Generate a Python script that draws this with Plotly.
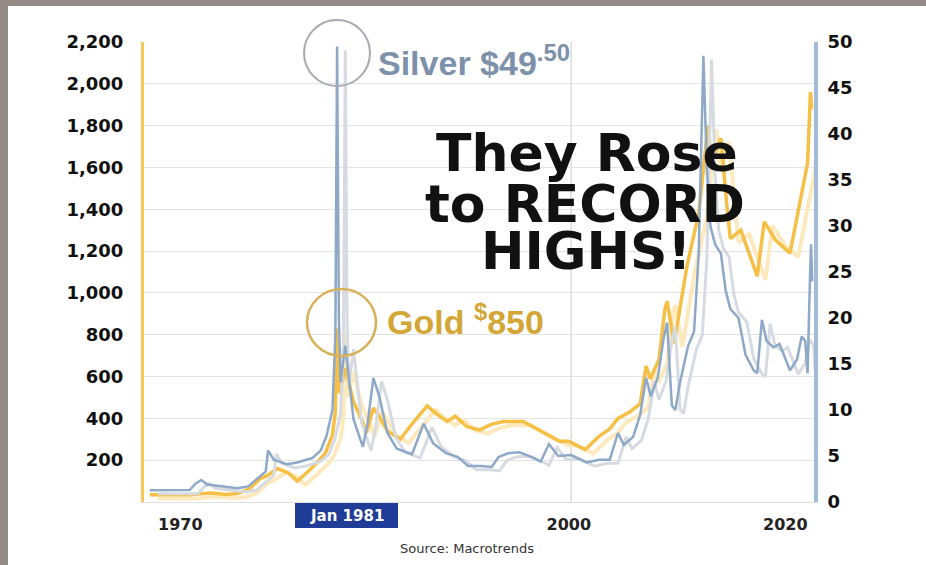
import plotly.graph_objects as go

# ---------------- data ----------------
gold_years = [1964.0, 1967.5, 1968.3, 1969.3, 1970.5, 1971.5, 1972.5, 1973.4, 1974.0, 1974.9,
              1975.8, 1976.6, 1977.5, 1978.5, 1979.0, 1979.6, 1979.85, 1980.0, 1980.2, 1980.7,
              1981.4, 1982.2, 1982.5, 1983.1, 1983.6, 1984.3, 1985.4, 1986.5, 1987.7, 1988.5,
              1989.4, 1990.1, 1991.1, 1992.2, 1993.1, 1994.2, 1995.9, 1997.0, 1997.6, 1999.0,
              1999.8, 2001.2, 2002.3, 2003.3, 2004.0, 2005.0, 2005.9, 2006.4, 2006.75, 2007.5,
              2008.0, 2008.2, 2008.8, 2009.9, 2010.9, 2011.7, 2012.0, 2012.8, 2013.3, 2013.6,
              2014.5, 2015.9, 2016.5, 2017.5, 2018.7, 2019.5, 2019.9, 2020.2, 2020.45, 2020.55]
gold_prices = [35, 35, 40, 43, 36, 41, 62, 110, 125, 160,
               140, 100, 145, 200, 235, 320, 430, 830, 520, 640,
               480, 380, 330, 450, 410, 340, 300, 380, 460, 420,
               385, 410, 360, 345, 370, 385, 385, 350, 330, 290,
               290, 250, 310, 350, 400, 430, 470, 650, 590, 680,
               920, 960, 760, 1130, 1380, 1800, 1620, 1740, 1420, 1260,
               1300, 1080, 1340, 1250, 1190, 1420, 1520, 1620, 1960, 1880]

silver_years = [1964.0, 1967.4, 1967.9, 1968.4, 1968.9, 1969.6, 1970.5, 1971.5, 1972.4, 1973.3,
                1973.9, 1974.1, 1974.6, 1975.7, 1976.6, 1977.9, 1978.6, 1979.1, 1979.6, 1979.85,
                1980.0, 1980.15, 1980.3, 1980.7, 1981.4, 1982.2, 1982.6, 1983.1, 1983.6, 1984.3,
                1985.1, 1986.4, 1987.4, 1988.2, 1989.3, 1990.3, 1991.2, 1992.3, 1993.2, 1993.8,
                1994.6, 1995.6, 1996.8, 1997.4, 1998.1, 1998.9, 2000.0, 2001.3, 2002.4, 2003.3,
                2004.0, 2004.5, 2005.3, 2005.9, 2006.4, 2006.8, 2007.4, 2007.9, 2008.2, 2008.6,
                2008.9, 2009.3, 2010.0, 2010.5, 2010.9, 2011.3, 2011.6, 2011.9, 2012.3, 2012.8,
                2013.2, 2013.6, 2014.3, 2014.9, 2015.6, 2015.9, 2016.3, 2016.7, 2017.3, 2017.8,
                2018.7, 2019.3, 2019.7, 2020.0, 2020.2, 2020.4, 2020.5, 2020.6]
silver_prices = [1.29, 1.3, 2.0, 2.4, 1.9, 1.8, 1.7, 1.5, 1.7, 2.6,
                 3.3, 5.6, 4.6, 4.1, 4.3, 4.8, 5.6, 7.2, 10.0, 18.0,
                 49.5, 20.0, 13.0, 17.0, 9.0, 6.0, 8.5, 13.5, 11.5, 7.5,
                 5.8, 5.2, 8.5, 6.4, 5.3, 4.9, 3.9, 3.9, 3.8, 4.9,
                 5.3, 5.4, 4.8, 4.4, 6.3, 5.0, 5.1, 4.3, 4.6, 4.6,
                 7.5, 6.2, 7.1, 9.5, 13.5, 11.5, 13.5, 17.8, 19.5, 10.5,
                 10.0, 13.0, 17.0, 18.5, 27.0, 48.5, 36.0, 30.0, 28.0, 27.0,
                 23.0, 21.0, 20.0, 16.0, 14.3, 14.0, 19.8, 17.5, 16.8, 17.2,
                 14.3, 15.5, 18.0, 17.5, 14.0, 24.0, 28.0, 24.0]

gold_ticks = list(range(200, 2201, 200))
silver_ticks = list(range(0, 51, 5))
year_tick_pos = [1966.6, 1999.8, 2018.3]
year_tick_text = ["1970", "2000", "2020"]

# ---------------- layout helpers (page pixel -> paper) ----------------
W, H = 926, 565
L, R, T, B = 144, 814, 42, 502


def PX(px):
    return (px - L) / (R - L)


def PY(py):
    return (B - py) / (B - T)


GOLD = "#f6bf45"
SILVER = "#8ea8c8"

fig = go.Figure()

# faint "ghost" copies (offset echo seen in the reference)
fig.add_trace(go.Scatter(x=[v + 0.7 for v in silver_years], y=[v - 0.4 for v in silver_prices],
                         mode="lines", line=dict(color="#d6dbe2", width=3), yaxis="y2",
                         hoverinfo="skip", showlegend=False))
fig.add_trace(go.Scatter(x=[v + 0.7 for v in gold_years], y=[v - 18 for v in gold_prices],
                         mode="lines", line=dict(color="#fce9bd", width=4),
                         hoverinfo="skip", showlegend=False))

fig.add_trace(go.Scatter(x=silver_years, y=silver_prices, mode="lines", name="Silver",
                         line=dict(color=SILVER, width=2.5), yaxis="y2", showlegend=False))
fig.add_trace(go.Scatter(x=gold_years, y=gold_prices, mode="lines", name="Gold",
                         line=dict(color=GOLD, width=3.5), showlegend=False))

shapes = [
    # grey frame pieces
    dict(type="rect", xref="paper", yref="paper", x0=PX(0), x1=PX(8), y0=PY(H), y1=PY(0),
         fillcolor="#958c87", line=dict(width=0), layer="below"),
    dict(type="rect", xref="paper", yref="paper", x0=PX(0), x1=PX(W), y0=PY(6), y1=PY(0),
         fillcolor="#958c87", line=dict(width=0), layer="below"),
    # vertical grid line at 2000
    dict(type="line", xref="x", yref="paper", x0=2000, x1=2000, y0=0, y1=1,
         line=dict(color="#dcdcdc", width=1.5), layer="below"),
    # circles
    dict(type="circle", xref="paper", yref="paper", x0=PX(304), x1=PX(370), y0=PY(86), y1=PY(20),
         line=dict(color="#a7a8b0", width=2)),
    dict(type="circle", xref="paper", yref="paper", x0=PX(307), x1=PX(376), y0=PY(356), y1=PY(289),
         line=dict(color="#d8b058", width=2.5)),
    # Jan 1981 box
    dict(type="rect", xref="paper", yref="paper", x0=PX(295), x1=PX(398), y0=PY(528), y1=PY(503),
         fillcolor="#1f3c97", line=dict(width=0)),
]

annotations = [
    dict(text="Silver $49<sup>.50</sup>", x=PX(376), y=PY(61), xref="paper", yref="paper",
         xanchor="left", yanchor="middle", showarrow=False,
         font=dict(family="Liberation Sans", size=34, color="#7d91ab", weight="bold")),
    dict(text="Gold <sup>$</sup>850", x=PX(385), y=PY(319), xref="paper", yref="paper",
         xanchor="left", yanchor="middle", showarrow=False,
         font=dict(family="Liberation Sans", size=34, color="#d4a636", weight="bold")),
    dict(text="They Rose", x=PX(587), y=PY(153), xref="paper", yref="paper",
         xanchor="center", yanchor="middle", showarrow=False,
         font=dict(family="DejaVu Sans", size=52, color="#111111", weight="bold")),
    dict(text="to RECORD", x=PX(585), y=PY(204), xref="paper", yref="paper",
         xanchor="center", yanchor="middle", showarrow=False,
         font=dict(family="DejaVu Sans", size=52, color="#111111", weight="bold")),
    dict(text="HIGHS!", x=PX(586), y=PY(251), xref="paper", yref="paper",
         xanchor="center", yanchor="middle", showarrow=False,
         font=dict(family="DejaVu Sans", size=52, color="#111111", weight="bold")),
    dict(text="Jan 1981", x=PX(346.5), y=PY(515.5), xref="paper", yref="paper",
         xanchor="center", yanchor="middle", showarrow=False,
         font=dict(family="DejaVu Sans", size=15, color="#ffffff", weight="bold")),
    dict(text="Source: Macrotrends", x=PX(467), y=PY(548), xref="paper", yref="paper",
         xanchor="center", yanchor="middle", showarrow=False,
         font=dict(family="DejaVu Sans", size=13, color="#333333")),
]

fig.update_layout(
    width=W, height=H,
    margin=dict(l=L, r=W - R, t=T, b=H - B, pad=0),
    paper_bgcolor="white", plot_bgcolor="white",
    showlegend=False,
    xaxis=dict(range=[1963.5, 2020.75], tickvals=year_tick_pos, ticktext=year_tick_text,
               showgrid=False, zeroline=False, showline=True, linecolor="#dedede", linewidth=1,
               ticks="", ticklabelstandoff=8,
               tickfont=dict(family="DejaVu Sans", size=16, color="#222222", weight="bold")),
    yaxis=dict(range=[0, 2200], tickvals=gold_ticks, tickformat=",d",
               showgrid=True, gridcolor="#e3e3e3", gridwidth=1, zeroline=False,
               showline=True, linecolor="#f7c95a", linewidth=3, ticks="", ticklabelstandoff=14,
               tickfont=dict(family="DejaVu Sans", size=18, color="#111111", weight="bold")),
    yaxis2=dict(range=[0, 50], tickvals=silver_ticks, overlaying="y", side="right",
                showgrid=False, zeroline=False, showline=True, linecolor="#a3bbd8", linewidth=4,
                ticks="", ticklabelstandoff=6,
                tickfont=dict(family="DejaVu Sans", size=18, color="#111111", weight="bold")),
    shapes=shapes,
    annotations=annotations,
)

# remove the default page margin so the 926x565 figure fills the window exactly
fig.write_html("out.html",
               config={"displayModeBar": False},
               post_script="document.body.style.margin='0';document.body.style.overflow='hidden';")
